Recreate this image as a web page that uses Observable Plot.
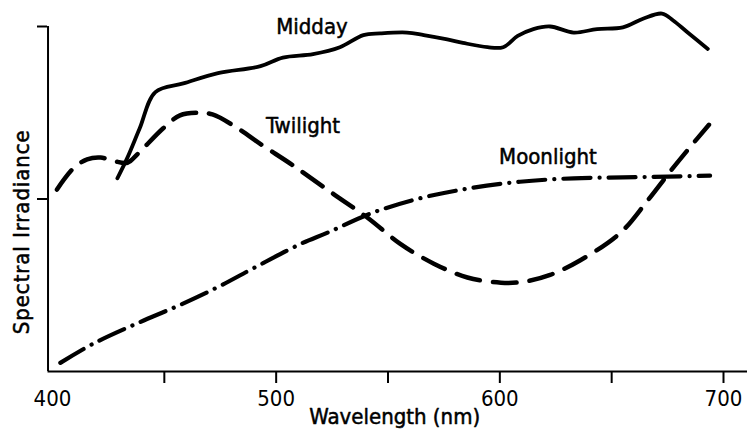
<!DOCTYPE html>
<html>
<head>
<meta charset="utf-8">
<script src="https://cdn.jsdelivr.net/npm/d3@7"></script>
<script src="https://cdn.jsdelivr.net/npm/@observablehq/plot@0.6"></script>
<style>
  html, body { margin: 0; padding: 0; background: #fff; }
</style>
</head>
<body>
<div id="chart"></div>
<script>
// Wavelength (nm) / relative spectral irradiance
const middayNm  = [429, 433.5, 439, 446, 458.5, 474, 493, 503, 516.5, 528.5, 539, 546.5, 558.5, 566, 576.5, 583.5, 594.5, 601.5, 608, 615, 622.5, 633, 643.5, 655, 664, 672.5, 677.5, 684, 693];
const middayVal = [1.12, 1.24, 1.41, 1.62, 1.67, 1.73, 1.77, 1.82, 1.84, 1.88, 1.95, 1.96, 1.965, 1.95, 1.925, 1.905, 1.88, 1.88, 1.945, 1.985, 2.0, 1.965, 1.985, 1.995, 2.045, 2.075, 2.035, 1.965, 1.87];

const twilightNm  = [402, 409.5, 415.5, 421.5, 427.5, 433.5, 438, 449.5, 457, 465, 471.5, 481, 494, 507.5, 525.5, 541, 555.5, 570.5, 585.5, 600.5, 610.5, 622.5, 636, 654, 666, 676.5, 685, 693.5];
const twilightVal = [1.055, 1.18, 1.23, 1.24, 1.22, 1.21, 1.26, 1.41, 1.485, 1.5, 1.49, 1.425, 1.31, 1.195, 1.03, 0.89, 0.74, 0.625, 0.545, 0.515, 0.52, 0.56, 0.645, 0.805, 0.99, 1.165, 1.3, 1.43];

const moonNm  = [403.5, 418, 438, 456, 474, 490, 511, 523, 542, 563, 585.5, 609, 633, 655, 675, 694];
const moonVal = [0.05, 0.16, 0.28, 0.38, 0.49, 0.6, 0.74, 0.805, 0.915, 1.0, 1.06, 1.1, 1.12, 1.125, 1.13, 1.135];

const xTicks      = [450, 500, 550, 600, 650, 700];
const xTickLabels = [400, 500, 600, 700];
const yTicks      = [1, 2];

const seriesNames = ["Midday", "Twilight", "Moonlight"];
const labelNm     = [516, 512, 621.5];
const labelVal    = [2.0, 1.425, 1.245];

const xTitle = "Wavelength (nm)";
const yTitle = "Spectral Irradiance";

const toRows = (nm, val) => nm.map((x, i) => ({x, y: val[i]}));
const midday = toRows(middayNm, middayVal);
const twilight = toRows(twilightNm, twilightVal);
const moon = toRows(moonNm, moonVal);
const labels = seriesNames.map((name, i) => ({name, x: labelNm[i], y: labelVal[i]}));

const font = "'DejaVu Sans Condensed', 'Liberation Sans Narrow', sans-serif";
const ink = {fill: "#000", stroke: "#000", strokeWidth: 0.5};

const chart = Plot.plot({
  width: 747,
  height: 430,
  marginLeft: 47,
  marginRight: 0,
  marginTop: 10,
  marginBottom: 59,
  style: {background: "#fff", color: "#000", fontFamily: font, fontSize: "22px"},
  x: {domain: [400, 700], range: [52, 723]},
  y: {domain: [0, 2], range: [371, 26]},
  marks: [
    // axis lines
    Plot.ruleY([0], {x1: 398, x2: 711, stroke: "#000", strokeWidth: 2}),
    Plot.ruleX([398], {y1: 0, y2: 2, stroke: "#000", strokeWidth: 2}),
    // x ticks
    Plot.axisX({ticks: xTicks, tickSize: 12, text: null, label: null, stroke: "#000", strokeWidth: 2}),
    Plot.axisX({ticks: xTickLabels, tickSize: 0, tickPadding: 19, fontSize: 22, label: null, ...ink}),
    // y ticks
    Plot.axisY({ticks: yTicks, tickSize: 10, text: null, stroke: "#000", strokeWidth: 2, label: null}),
    // curves
    Plot.line(midday, {x: "x", y: "y", curve: "catmull-rom", stroke: "#000", strokeWidth: 3.8, strokeLinejoin: "round", strokeLinecap: "round"}),
    Plot.line(twilight, {x: "x", y: "y", curve: "catmull-rom", stroke: "#000", strokeWidth: 4.5, strokeDasharray: "24,13", strokeLinecap: "round"}),
    Plot.line(moon, {x: "x", y: "y", curve: "catmull-rom", stroke: "#000", strokeWidth: 4.2, strokeDasharray: "27,9,0.1,9", strokeLinecap: "round"}),
    // series labels
    Plot.text(labels, {x: "x", y: "y", text: "name", fontSize: 22, lineAnchor: "middle", textAnchor: "middle", ...ink}),
    // axis titles
    Plot.text([xTitle], {x: 553, y: 0, text: d => d, dy: 37, lineAnchor: "top", fontSize: 22, ...ink}),
    Plot.text([yTitle], {x: 398, y: 0.81, text: d => d, dx: -26, rotate: -90, lineAnchor: "middle", fontSize: 22, ...ink})
  ]
});
// slightly wider tracking for the vertical title, as in the reference
d3.select(chart).selectAll("text").filter(function () { return this.textContent === yTitle; })
  .attr("letter-spacing", "0.9px");
document.getElementById("chart").appendChild(chart);
</script>
</body>
</html>
